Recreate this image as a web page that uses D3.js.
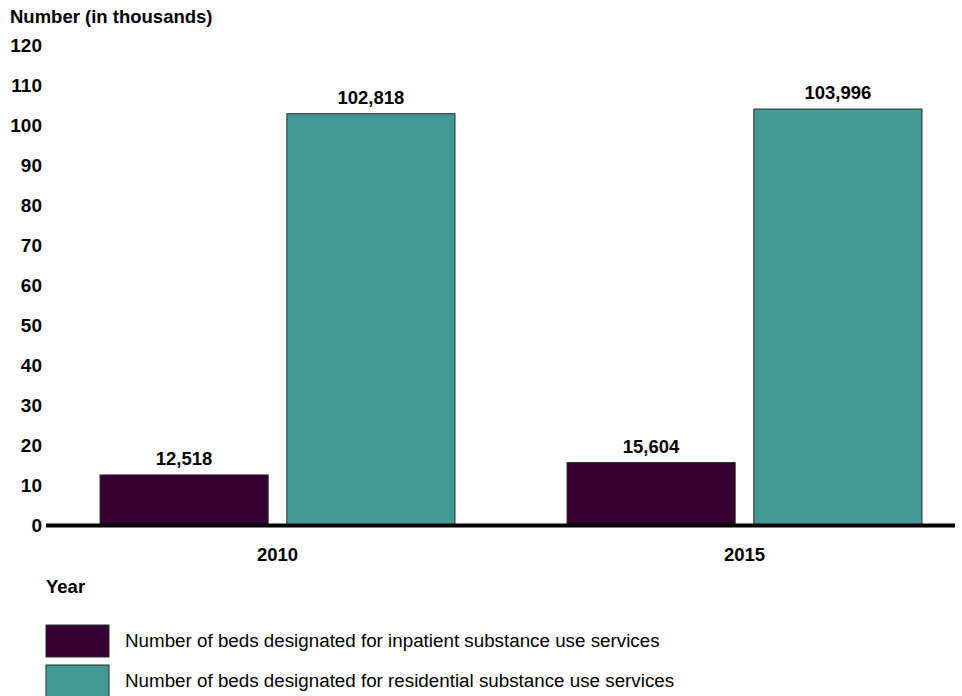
<!DOCTYPE html>
<html>
<head>
<meta charset="utf-8">
<script src="https://cdn.jsdelivr.net/npm/d3@7"></script>
<style>
  body { margin: 0; background: #fff; }
  svg { display: block; font-family: "Liberation Sans", Arial, sans-serif; }
</style>
</head>
<body>
<svg id="chart" width="962" height="696"></svg>
<script>
// Bed counts by year (values in beds; axis shows thousands)
const years = ["2010", "2015"];
const seriesNames = [
  "Number of beds designated for inpatient substance use services",
  "Number of beds designated for residential substance use services"
];
const inpatientBeds = [12518, 15604];
const residentialBeds = [102818, 103996];
const yTicks = [0, 10, 20, 30, 40, 50, 60, 70, 80, 90, 100, 110, 120];
const colors = ["#330030", "#419a93"];

const svg = d3.select("#chart");
const seriesValues = [inpatientBeds, residentialBeds];
const labelSize = 18.5;

const y = d3.scaleLinear().domain([0, 120]).range([525, 45]);
const x0 = d3.scaleBand().domain(years).range([44, 978])
  .paddingInner(0.24).paddingOuter(0.12);
const x1 = d3.scaleBand().domain(d3.range(seriesNames.length))
  .range([0, x0.bandwidth()]).paddingInner(0.1).paddingOuter(0);

const fmt = d3.format(",");

// Y axis title
svg.append("text").attr("x", 10).attr("y", 23)
  .attr("font-size", labelSize).attr("font-weight", "bold").attr("fill", "#000")
  .text("Number (in thousands)");

// Y axis tick labels
const yAxis = d3.axisLeft(y).tickValues(yTicks).tickSize(0).tickPadding(0);
const yg = svg.append("g").attr("transform", "translate(42,0)").call(yAxis);
yg.select(".domain").remove();
yg.selectAll("text").attr("font-size", 19).attr("font-weight", "bold")
  .attr("fill", "#000").attr("font-family", "Liberation Sans, Arial, sans-serif")
  .attr("dy", "0.36em");

// Bars
years.forEach((yr, i) => {
  const g = svg.append("g").attr("transform", `translate(${x0(yr)},0)`);
  seriesValues.forEach((vals, s) => {
    const v = vals[i] / 1000;
    g.append("rect")
      .attr("x", x1(s)).attr("width", x1.bandwidth())
      .attr("y", y(v)).attr("height", y(0) - y(v))
      .attr("fill", colors[s]).attr("stroke", "#2a2a2a").attr("stroke-width", 1);
    g.append("text")
      .attr("x", x1(s) + x1.bandwidth() / 2).attr("y", y(v) - 10)
      .attr("text-anchor", "middle").attr("font-size", labelSize).attr("font-weight", "bold")
      .attr("fill", "#000").text(fmt(vals[i]));
  });
});

// Baseline
svg.append("line").attr("x1", 46).attr("x2", 955)
  .attr("y1", y(0) + 0.5).attr("y2", y(0) + 0.5)
  .attr("stroke", "#000").attr("stroke-width", 4);

// X axis labels
const xAxis = d3.axisBottom(x0).tickSize(0).tickPadding(0);
const xg = svg.append("g").attr("transform", "translate(0,548)").call(xAxis);
xg.select(".domain").remove();
xg.selectAll("text").attr("font-size", labelSize).attr("font-weight", "bold")
  .attr("fill", "#000").attr("font-family", "Liberation Sans, Arial, sans-serif");

svg.append("text").attr("x", 46).attr("y", 593)
  .attr("font-size", labelSize).attr("font-weight", "bold").attr("fill", "#000")
  .text("Year");

// Legend
seriesNames.forEach((name, s) => {
  const ly = 625 + s * 40;
  svg.append("rect").attr("x", 46).attr("y", ly).attr("width", 63).attr("height", 32)
    .attr("fill", colors[s]).attr("stroke", "#2a2a2a").attr("stroke-width", 1);
  svg.append("text").attr("x", 125).attr("y", ly + 22)
    .attr("font-size", 18.8).attr("fill", "#000").text(name);
});
</script>
</body>
</html>
